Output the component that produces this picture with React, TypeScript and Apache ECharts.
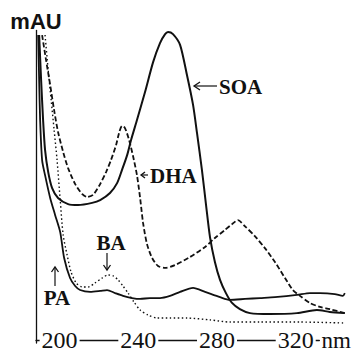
import React, { useEffect, useRef } from "react";
import * as echarts from "echarts";

// Wavelength (nm) and absorbance (mAU, arbitrary scale 0-100)
const soaWavelength = [189.6, 190.6, 191.6, 192.6, 194.2, 196.2, 199.2, 204.3, 209.4, 216.5, 220.6, 225.6, 229.2, 231.7, 234.3, 236.3, 239.3, 243.4, 247.5, 251.0, 253.6, 255.1, 257.6, 261.2, 264.7, 267.8, 269.8, 272.3, 274.4, 276.4, 278.9, 281.5, 284.5, 287.6, 291.6, 296.7, 306.9, 320.6, 330.7, 337.3, 344.9];
const soaAbsorbance = [100, 85.4, 72.4, 62.7, 55.5, 50.3, 47.1, 45.1, 44.8, 45.5, 46.4, 48.7, 51.9, 56.2, 61.0, 65.9, 72.4, 81.5, 91.2, 97.4, 100.3, 101.0, 100.3, 96.8, 87.0, 77.3, 68.2, 56.2, 44.8, 34.4, 26.3, 20.5, 16.2, 13.0, 11.0, 9.7, 9.4, 9.7, 10.7, 10.1, 9.7];

const dhaWavelength = [191.1, 193.1, 195.2, 197.2, 199.2, 201.8, 204.3, 207.9, 211.4, 214.0, 217.0, 220.6, 223.6, 226.1, 228.7, 230.2, 231.7, 233.2, 235.3, 237.3, 239.3, 240.9, 242.4, 244.4, 247.0, 250.0, 253.6, 258.6, 266.2, 273.9, 278.9, 284.0, 287.6, 290.6, 294.2, 299.2, 304.3, 309.4, 314.5, 318.5, 322.1, 327.2, 332.2, 337.3, 344.9];
const dhaAbsorbance = [100, 91.9, 83.8, 75.6, 68.5, 62.0, 56.8, 51.6, 48.4, 47.4, 48.1, 51.6, 55.5, 59.4, 64.3, 68.2, 70.5, 69.8, 65.9, 60.7, 54.5, 47.1, 39.0, 32.1, 27.6, 25.0, 24.4, 25.3, 27.9, 31.2, 34.1, 36.7, 38.6, 39.9, 37.9, 34.7, 30.8, 26.3, 21.1, 17.2, 15.3, 13.0, 11.7, 11.0, 9.7];

const paWavelength = [189.1, 189.6, 190.1, 191.1, 192.6, 195.2, 197.7, 200.3, 202.3, 205.3, 207.9, 210.4, 215.5, 220.6, 224.1, 228.2, 232.2, 236.8, 240.9, 245.9, 251.0, 256.1, 261.2, 267.8, 273.9, 281.5, 286.5, 294.2, 301.8, 309.4, 320.6, 327.2, 332.2, 339.8, 343.9, 344.9];
const paAbsorbance = [100, 85.4, 72.4, 59.4, 54.5, 47.1, 41.6, 36.0, 27.6, 21.1, 18.5, 17.2, 16.6, 16.9, 17.2, 16.2, 15.3, 14.6, 14.3, 14.6, 14.6, 15.3, 16.6, 17.9, 16.6, 14.9, 14.0, 14.3, 14.6, 14.9, 15.6, 16.2, 16.2, 15.9, 15.3, 16.2];

const baWavelength = [192.6, 194.2, 195.7, 197.2, 198.7, 200.3, 201.8, 203.8, 205.8, 208.4, 211.4, 214.5, 218.0, 221.6, 224.6, 227.2, 229.7, 232.2, 234.8, 237.8, 240.9, 244.9, 249.5, 256.1, 264.7, 276.4, 286.5, 301.8, 322.1, 344.9];
const baAbsorbance = [100, 88.6, 78.9, 69.2, 59.4, 46.4, 35.1, 28.6, 23.1, 19.5, 18.2, 18.2, 19.5, 21.1, 22.1, 21.8, 20.5, 18.5, 16.2, 13.3, 10.7, 9.1, 8.1, 8.1, 8.1, 7.5, 6.8, 6.8, 6.8, 6.5];

const xTickValues = [200, 240, 280, 320];
const xUnit = "nm";
const yUnit = "mAU";
const xMin = 188;
const xMaxData = 345; // extent of the plotted spectra
const xMaxAxis = 332; // the drawn wavelength axis stops just before "nm"
const yMax = 101.5;

const zip = (xs: number[], ys: number[]) => xs.map((x, i) => [x, ys[i]]);

const INK = "#111";
const serif = "Liberation Serif";

export default function App() {
  const ref = useRef<HTMLDivElement>(null);
  useEffect(() => {
    const chart = echarts.init(ref.current!, null, { renderer: "svg" });
    const lineBase = { type: "line", showSymbol: false, symbol: "none", smooth: 0.25, silent: true, xAxisIndex: 0, yAxisIndex: 0 };
    const arrowHead = (pts: number[][]) => ({
      type: "polyline",
      z: 50,
      shape: { points: pts },
      style: { stroke: INK, lineWidth: 1.3, fill: null },
    });
    const pxPerNm = (354 - 36 - 9) / (xMaxData - xMin);
    const axisRight = 354 - (36 + (xMaxAxis - xMin) * pxPerNm);
    chart.setOption({
      animation: false,
      backgroundColor: "#fff",
      grid: [
        { left: 36, right: 9, top: 30.4, bottom: 9 },
        { left: 36, right: axisRight, top: 30.4, bottom: 9 },
      ],
      xAxis: [
        {
          gridIndex: 0,
          type: "value",
          min: xMin,
          max: xMaxData,
          show: false,
        },
        {
          gridIndex: 1,
          type: "value",
          min: xMin,
          max: xMaxAxis,
          axisLine: { show: true, onZero: false, lineStyle: { color: INK, width: 1.3 } },
          axisTick: { show: false },
          splitLine: { show: false },
          axisLabel: {
            customValues: xTickValues,
            fontFamily: serif,
            fontSize: 24,
            color: INK,
            margin: 0,
            verticalAlign: "middle",
            backgroundColor: "#fff",
            padding: [0, 2],
          },
          name: xUnit,
          nameLocation: "end",
          nameGap: 1,
          nameTextStyle: {
            fontFamily: serif,
            fontSize: 23,
            color: INK,
            align: "left",
            verticalAlign: "middle",
          },
        },
      ],
      yAxis: [
        {
          gridIndex: 0,
          type: "value",
          min: 0,
          max: yMax,
          axisLine: { show: true, lineStyle: { color: INK, width: 1.3 } },
          axisTick: { show: false },
          axisLabel: { show: false },
          splitLine: { show: false },
          name: yUnit,
          nameLocation: "end",
          nameGap: -2,
          nameTextStyle: {
            fontFamily: "Liberation Sans",
            fontWeight: "bold",
            fontSize: 22,
            color: INK,
            align: "center",
          },
        },
        { gridIndex: 1, type: "value", min: 0, max: yMax, show: false },
      ],
      series: [
        { ...lineBase, name: "SOA", data: zip(soaWavelength, soaAbsorbance), lineStyle: { color: INK, width: 2 } },
        { ...lineBase, name: "DHA", data: zip(dhaWavelength, dhaAbsorbance), lineStyle: { color: INK, width: 1.8, type: [5, 2.5] } },
        { ...lineBase, name: "PA", data: zip(paWavelength, paAbsorbance), lineStyle: { color: INK, width: 1.8 } },
        { ...lineBase, name: "BA", data: zip(baWavelength, baAbsorbance), lineStyle: { color: INK, width: 1.4, type: [1.5, 2.5] } },
      ],
      graphic: [
        // SOA label with left arrow
        { type: "text", z: 50, x: 219, y: 87, style: { text: "SOA", font: `bold 21px "${serif}"`, fill: INK, verticalAlign: "middle" } },
        { type: "line", z: 50, shape: { x1: 194, y1: 86, x2: 217, y2: 86 }, style: { stroke: INK, lineWidth: 1.2 } },
        arrowHead([[200, 82], [194, 86], [200, 90]]),
        // DHA label with small left arrow
        { type: "text", z: 50, x: 150, y: 176, style: { text: "DHA", font: `bold 21px "${serif}"`, fill: INK, verticalAlign: "middle" } },
        { type: "line", z: 50, shape: { x1: 141, y1: 175, x2: 148, y2: 175 }, style: { stroke: INK, lineWidth: 1.2 } },
        arrowHead([[145, 172], [141, 175], [145, 178]]),
        // BA label with down arrow
        { type: "text", z: 50, x: 111, y: 243, style: { text: "BA", font: `bold 21px "${serif}"`, fill: INK, align: "center", verticalAlign: "middle" } },
        { type: "line", z: 50, shape: { x1: 107, y1: 253, x2: 107, y2: 270 }, style: { stroke: INK, lineWidth: 1.2 } },
        arrowHead([[103.5, 265], [107, 270], [110.5, 265]]),
        // PA label with up arrow
        { type: "text", z: 50, x: 57, y: 298, style: { text: "PA", font: `bold 21px "${serif}"`, fill: INK, align: "center", verticalAlign: "middle" } },
        { type: "line", z: 50, shape: { x1: 55, y1: 267, x2: 55, y2: 286 }, style: { stroke: INK, lineWidth: 1.2 } },
        arrowHead([[51.5, 272], [55, 267], [58.5, 272]]),
      ],
    });
    return () => chart.dispose();
  }, []);
  return <div ref={ref} style={{ position: "fixed", left: 0, top: 0, width: 354, height: 352 }} />;
}
